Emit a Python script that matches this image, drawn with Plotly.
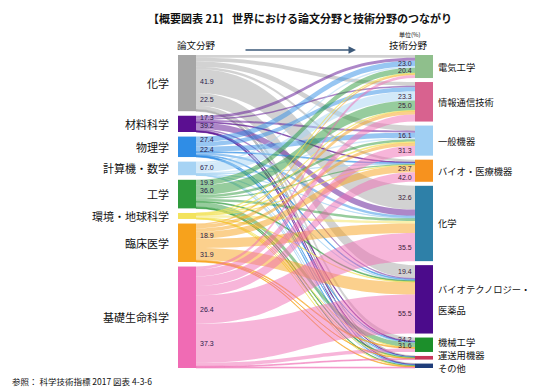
import plotly.graph_objects as go

# ---------------- data ----------------
paper_fields = ["化学", "材料科学", "物理学", "計算機・数学", "工学", "環境・地球科学", "臨床医学", "基礎生命科学"]
tech_fields = ["電気工学", "情報通信技術", "一般機器", "バイオ・医療機器", "化学",
               "バイオテクノロジー・<br>医薬品", "機械工学", "運送用機器", "その他"]

paper_colors = ["#a6a6a6", "#5b0f91", "#2f8de6", "#a6d3f4", "#2e9a3c", "#f3e35c", "#f7a21c", "#f06bb4"]
tech_colors = ["#8fbf8c", "#d8628f", "#9fcff3", "#f7921e", "#2e80a8", "#4b0b8b", "#1c8f2b", "#c8365a", "#1f3d7a"]

# flow shares (%), one list per paper field, in the order of tech_fields
flow_chem = [1.0, 1.3, 1.8, 0.9, 8.3, 4.5, 1.28, 0.3, 0.3]
flow_mat = [1.0, 0.5, 0.7, 0.25, 2.2, 0.5, 0.3, 0.1, 0.15]
flow_phys = [1.97, 1.5, 1.8, 0.3, 0.8, 0.3, 0.2, 0.1, 0.2]
flow_comp = [0.5, 3.2, 0.5, 0.1, 0.1, 0.2, 0.05, 0.02, 0.1]
flow_eng = [1.9, 3.45, 0.9, 0.4, 0.9, 0.3, 1.67, 0.3, 0.2]
flow_env = [0.2, 0.2, 0.3, 0.1, 0.9, 0.2, 0.05, 0.05, 0.1]
flow_clin = [0.5, 1.2, 1.2, 2.4, 3.3, 4.27, 0.3, 0.1, 0.2]
flow_bio = [1.0, 2.5, 3.35, 3.3, 9.9, 13.7, 1.2, 0.3, 0.3]
flows = [flow_chem, flow_mat, flow_phys, flow_comp, flow_eng, flow_env, flow_clin, flow_bio]

# printed percentages: (paper index, tech index, text)
left_values = [(0, 4, "41.9"), (0, 5, "22.5"), (1, 0, "17.3"), (1, 4, "39.2"),
               (2, 0, "27.4"), (2, 2, "22.4"), (3, 1, "67.0"), (4, 0, "19.3"),
               (4, 1, "36.0"), (6, 3, "18.9"), (6, 5, "31.9"), (7, 4, "26.4"), (7, 5, "37.3")]
right_values = [(2, 0, "23.0"), (4, 0, "20.4"), (3, 1, "23.3"), (4, 1, "25.0"),
                (2, 2, "16.1"), (7, 2, "31.3"), (6, 3, "29.7"), (7, 3, "42.0"),
                (0, 4, "32.6"), (7, 4, "35.5"), (0, 5, "19.4"), (7, 5, "55.5"),
                (0, 6, "24.2"), (4, 6, "31.6")]

# ---------------- layout geometry ----------------
W, H = 536, 390
x_left_px, x_right_px = 178, 433
y_top_px, y_bot_px = 55, 368
thick = 18
pad = 4
dom_w = x_right_px - x_left_px
dom_h = y_bot_px - y_top_px

n_p, n_t = len(paper_fields), len(tech_fields)
total = sum(sum(r) for r in flows)
row_sum = [sum(r) for r in flows]
col_sum = [sum(flows[i][j] for i in range(n_p)) for j in range(n_t)]
ky = min((dom_h - (n_p - 1) * pad) / total, (dom_h - (n_t - 1) * pad) / total)


def stack(sizes):
    hs = [s * ky for s in sizes]
    gap = (dom_h - sum(hs)) / (len(hs) - 1)
    tops, y = [], 0.0
    for h in hs:
        tops.append(y)
        y += h + gap
    return tops, hs


p_tops, p_hs = stack(row_sum)
t_tops, t_hs = stack(col_sum)

node_x = [thick / 2 / dom_w] * n_p + [1 - thick / 2 / dom_w] * n_t
node_y = [(t + h / 2) / dom_h for t, h in zip(p_tops, p_hs)] + \
         [(t + h / 2) / dom_h for t, h in zip(t_tops, t_hs)]


def rgba(hx, a):
    hx = hx.lstrip("#")
    return "rgba(%d,%d,%d,%.2f)" % (int(hx[0:2], 16), int(hx[2:4], 16), int(hx[4:6], 16), a)


src, tgt, val, lcol = [], [], [], []
for i in range(n_p):
    for j in range(n_t):
        src.append(i)
        tgt.append(n_p + j)
        val.append(flows[i][j])
        lcol.append(rgba(paper_colors[i], 0.5))

fig = go.Figure(go.Sankey(
    arrangement="fixed",
    domain=dict(x=[x_left_px / W, x_right_px / W], y=[1 - y_bot_px / H, 1 - y_top_px / H]),
    node=dict(label=paper_fields + tech_fields, color=paper_colors + tech_colors,
              x=node_x, y=node_y, pad=pad, thickness=thick, line=dict(width=0)),
    link=dict(source=src, target=tgt, value=val, color=lcol),
    textfont=dict(color="rgba(0,0,0,0)", size=1),
))

ann = []
font_jp = "Noto Sans CJK JP"


def py(px):
    return 1 - px / H


# node labels (left)
for i, name in enumerate(paper_fields):
    c = y_top_px + p_tops[i] + p_hs[i] / 2
    ann.append(dict(x=170 / W, y=py(c), text=name, xanchor="right", yanchor="middle",
                    showarrow=False, borderpad=0,
                    font=dict(family=font_jp, size=11, color="#111")))

# node labels (right), kept at least one line apart
min_gap = 12.8
centres = [y_top_px + t_tops[j] + t_hs[j] / 2 for j in range(n_t)]
for j in range(1, n_t):
    centres[j] = max(centres[j], centres[j - 1] + min_gap)
centres[-1] = min(centres[-1], y_bot_px)
for j in range(n_t - 2, -1, -1):
    centres[j] = min(centres[j], centres[j + 1] - min_gap)
for j, name in enumerate(tech_fields):
    c = centres[j]
    parts = name.split("<br>")
    spacing = 21
    for k, part in enumerate(parts):
        yy = c + (k - (len(parts) - 1) / 2) * spacing
        ann.append(dict(x=437 / W, y=py(yy), text=part, xanchor="left", yanchor="middle",
                        showarrow=False, borderpad=0,
                        font=dict(family=font_jp, size=9.3, color="#111")))

# value labels on the left (flow centres at source side)
for i, j, txt in left_values:
    off = sum(flows[i][k] for k in range(j)) + flows[i][j] / 2
    c = y_top_px + p_tops[i] + off * ky
    ann.append(dict(x=199 / W, y=py(c), text=txt, xanchor="left", yanchor="middle",
                    showarrow=False, borderpad=0,
                    font=dict(family="Liberation Sans", size=7, color="#2a1a4a")))
for i, j, txt in right_values:
    off = sum(flows[k][j] for k in range(i)) + flows[i][j] / 2
    c = y_top_px + t_tops[j] + off * ky
    ann.append(dict(x=413 / W, y=py(c), text=txt, xanchor="right", yanchor="middle",
                    showarrow=False, borderpad=0,
                    font=dict(family="Liberation Sans", size=7, color="#3a1a3a")))

# titles
ann.append(dict(x=300 / W, y=py(18), text="<b>【概要図表 21】 世界における論文分野と技術分野のつながり</b>",
                xanchor="center", yanchor="middle", showarrow=False,
                font=dict(family=font_jp, size=11, color="#111")))
ann.append(dict(x=196 / W, y=py(45), text="論文分野", xanchor="center", yanchor="middle",
                showarrow=False, font=dict(family=font_jp, size=9.5, color="#111")))
ann.append(dict(x=408 / W, y=py(45), text="技術分野", xanchor="center", yanchor="middle",
                showarrow=False, font=dict(family=font_jp, size=9.5, color="#111")))
ann.append(dict(x=410 / W, y=py(34), text="単位(%)", xanchor="center", yanchor="middle",
                showarrow=False, font=dict(family=font_jp, size=6, color="#111")))
ann.append(dict(x=356 / W, y=py(50), ax=-112, ay=0, text="", showarrow=True,
                arrowhead=2, arrowsize=1, arrowwidth=1.5, arrowcolor="#3d5a7a"))
ann.append(dict(x=10 / W, y=py(381), text="参照： 科学技術指標 2017 図表 4-3-6", xanchor="left",
                yanchor="middle", showarrow=False, font=dict(family=font_jp, size=8.5, color="#111")))

fig.update_layout(width=W, height=H, margin=dict(l=0, r=0, t=0, b=0),
                  paper_bgcolor="white", plot_bgcolor="white", annotations=ann,
                  font=dict(family=font_jp))
fig.write_html("out.html", config={"displayModeBar": False},
               post_script="document.body.style.margin='0px';")
